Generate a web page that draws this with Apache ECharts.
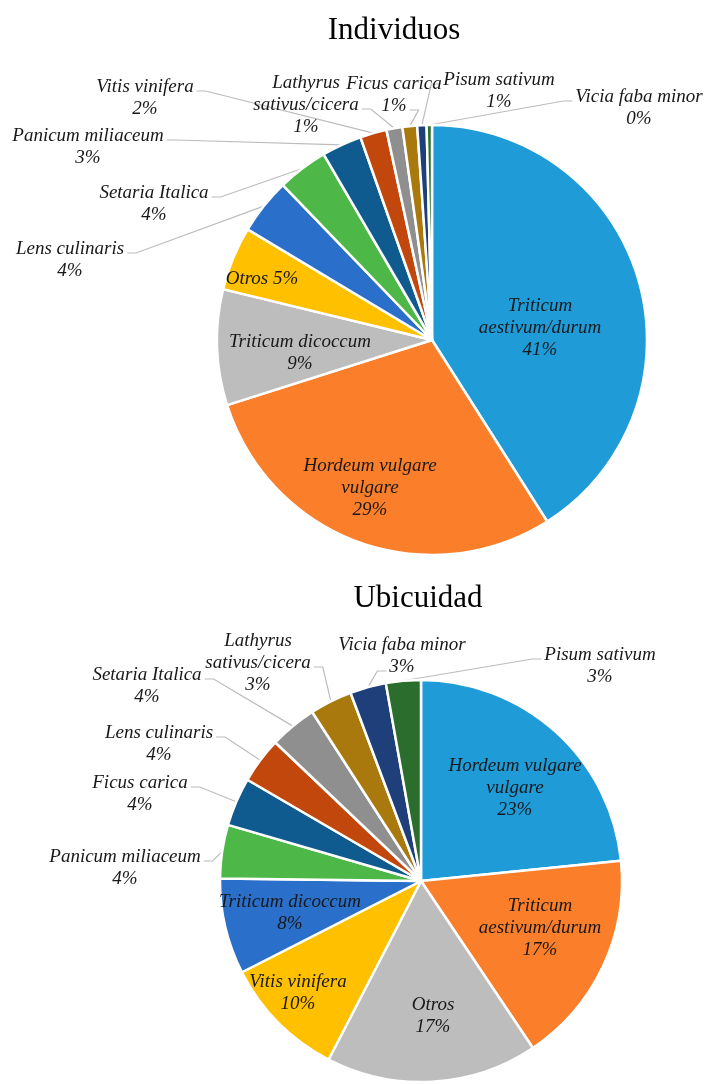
<!DOCTYPE html>
<html>
<head>
<meta charset="utf-8">
<script src="https://cdn.jsdelivr.net/npm/echarts@6/dist/echarts.min.js"></script>
<style>
  html, body { margin: 0; padding: 0; background: #ffffff; }
  #chart { width: 707px; height: 1084px; }
</style>
</head>
<body>
<div id="chart"></div>
<script>
// ---- Data: share of taxa (%) ----
const individuosNames = [
  'Triticum aestivum/durum', 'Hordeum vulgare vulgare', 'Triticum dicoccum', 'Otros',
  'Lens culinaris', 'Setaria Italica', 'Panicum miliaceum', 'Vitis vinifera',
  'Lathyrus sativus/cicera', 'Ficus carica', 'Pisum sativum', 'Vicia faba minor'
];
const individuosValues = [41.0, 29.1, 8.7, 4.8, 4.2, 3.8, 3.0, 2.0, 1.2, 1.1, 0.7, 0.4];

const ubicuidadNames = [
  'Hordeum vulgare vulgare', 'Triticum aestivum/durum', 'Otros', 'Vitis vinifera',
  'Triticum dicoccum', 'Panicum miliaceum', 'Ficus carica', 'Lens culinaris',
  'Setaria Italica', 'Lathyrus sativus/cicera', 'Vicia faba minor', 'Pisum sativum'
];
const ubicuidadValues = [23.4, 17.2, 17.0, 9.9, 7.7, 4.3, 3.9, 3.7, 3.8, 3.4, 2.9, 2.8];

const chartTitles = ['Individuos', 'Ubicuidad'];

// ---- Styling ----
const palette = [
  '#1f9bd8', '#fb7e2b', '#bdbdbd', '#ffc000', '#2a6fca', '#4db848',
  '#0f5b8f', '#c2470c', '#8f8f8f', '#a9790d', '#1f3f7a', '#2a6d2c'
];
const FONT = '"Liberation Serif", "Times New Roman", serif';
const LABEL_SIZE = 19;
const LINE_H = 22;

// Name wrapping used in the slice labels
const wrapped = {
  'Triticum aestivum/durum': 'Triticum\naestivum/durum',
  'Hordeum vulgare vulgare': 'Hordeum vulgare\nvulgare',
  'Lathyrus sativus/cicera': 'Lathyrus\nsativus/cicera'
};

// Label placement (label block centre; side/line = where the leader line attaches)
const individuosPlace = [
  { x: 540, y: 328, inside: true },
  { x: 370, y: 488, inside: true },
  { x: 300, y: 353, inside: true },
  { x: 262, y: 279, inside: true, oneLine: true },
  { x: 70,  y: 260, side: 'r', line: 0 },
  { x: 154, y: 204, side: 'r', line: 0 },
  { x: 88,  y: 147, side: 'r', line: 0 },
  { x: 145, y: 98,  side: 'r', line: 0 },
  { x: 306, y: 105, side: 'r', line: 1 },
  { x: 394, y: 95,  side: 'r', line: 1 },
  { x: 499, y: 91,  side: 'l', line: 0 },
  { x: 639, y: 108, side: 'l', line: 0 }
];
const ubicuidadPlace = [
  { x: 515, y: 788,  inside: true },
  { x: 540, y: 928,  inside: true },
  { x: 433, y: 1016, inside: true },
  { x: 298, y: 993,  inside: true },
  { x: 290, y: 913,  inside: true },
  { x: 125, y: 868, side: 'r', line: 0 },
  { x: 140, y: 794, side: 'r', line: 0 },
  { x: 159, y: 744, side: 'r', line: 0 },
  { x: 147, y: 686, side: 'r', line: 0 },
  { x: 258, y: 663, side: 'r', line: 1 },
  { x: 402, y: 656, side: 'l', line: 1 },
  { x: 600, y: 666, side: 'l', line: 0 }
];
const places = [individuosPlace, ubicuidadPlace];

const measureCtx = document.createElement('canvas').getContext('2d');
measureCtx.font = 'italic ' + LABEL_SIZE + 'px ' + FONT;

function labelText(name, percent, place) {
  const pct = Math.round(percent) + '%';
  if (place.oneLine) return name + ' ' + pct;
  return (wrapped[name] || name) + '\n' + pct;
}

function buildData(names, values, place) {
  return names.map((name, i) => {
    const p = place[i];
    return {
      name: name,
      value: values[i],
      itemStyle: { color: palette[i % palette.length] },
      label: { position: p.inside ? 'inside' : 'outside' },
      labelLine: { show: !p.inside }
    };
  });
}

function makeLayout(seriesIdx) {
  const place = places[seriesIdx];
  return function (params) {
    const p = place[params.dataIndex];
    const out = { x: p.x, y: p.y, align: 'center', verticalAlign: 'middle' };
    if (!p.inside && params.labelLinePoints) {
      const text = params.text || '';
      const lines = text.split('\n');
      const top = p.y - lines.length * LINE_H / 2;
      const lineY = top + (p.line + 0.5) * LINE_H + 4;
      const w = measureCtx.measureText(lines[p.line] || '').width;
      const endX = p.side === 'r' ? p.x + w / 2 + 3 : p.x - w / 2 - 3;
      const bendX = p.side === 'r' ? endX + 9 : endX - 9;
      const start = params.labelLinePoints[0];
      out.labelLinePoints = [[start[0], start[1]], [bendX, lineY], [endX, lineY]];
    }
    return out;
  };
}

function pieSeries(idx, names, values, center, radius) {
  return {
    type: 'pie',
    center: center,
    radius: radius,
    startAngle: 90,
    clockwise: true,
    avoidLabelOverlap: false,
    animation: false,
    itemStyle: { borderColor: '#ffffff', borderWidth: 2.5 },
    label: {
      show: true,
      fontFamily: FONT,
      fontStyle: 'italic',
      fontSize: LABEL_SIZE,
      lineHeight: LINE_H,
      color: '#181818',
      formatter: (prm) => labelText(prm.name, prm.percent, places[idx][prm.dataIndex])
    },
    labelLine: {
      show: true,
      length: 10,
      length2: 10,
      lineStyle: { color: '#bcbcbc', width: 1.2 }
    },
    emphasis: { disabled: true },
    labelLayout: makeLayout(idx),
    data: buildData(names, values, places[idx])
  };
}

const chart = echarts.init(document.getElementById('chart'), null, { renderer: 'canvas' });
chart.setOption({
  backgroundColor: '#ffffff',
  animation: false,
  graphic: [
    { type: 'text', x: 394, y: 31, style: { text: chartTitles[0], align: 'center', verticalAlign: 'middle', fontFamily: FONT, fontSize: 31, fill: '#000000' } },
    { type: 'text', x: 418, y: 599, style: { text: chartTitles[1], align: 'center', verticalAlign: 'middle', fontFamily: FONT, fontSize: 31, fill: '#000000' } }
  ],
  series: [
    pieSeries(0, individuosNames, individuosValues, [432, 340], 215),
    pieSeries(1, ubicuidadNames, ubicuidadValues, [421, 881], 201)
  ]
});
</script>
</body>
</html>
